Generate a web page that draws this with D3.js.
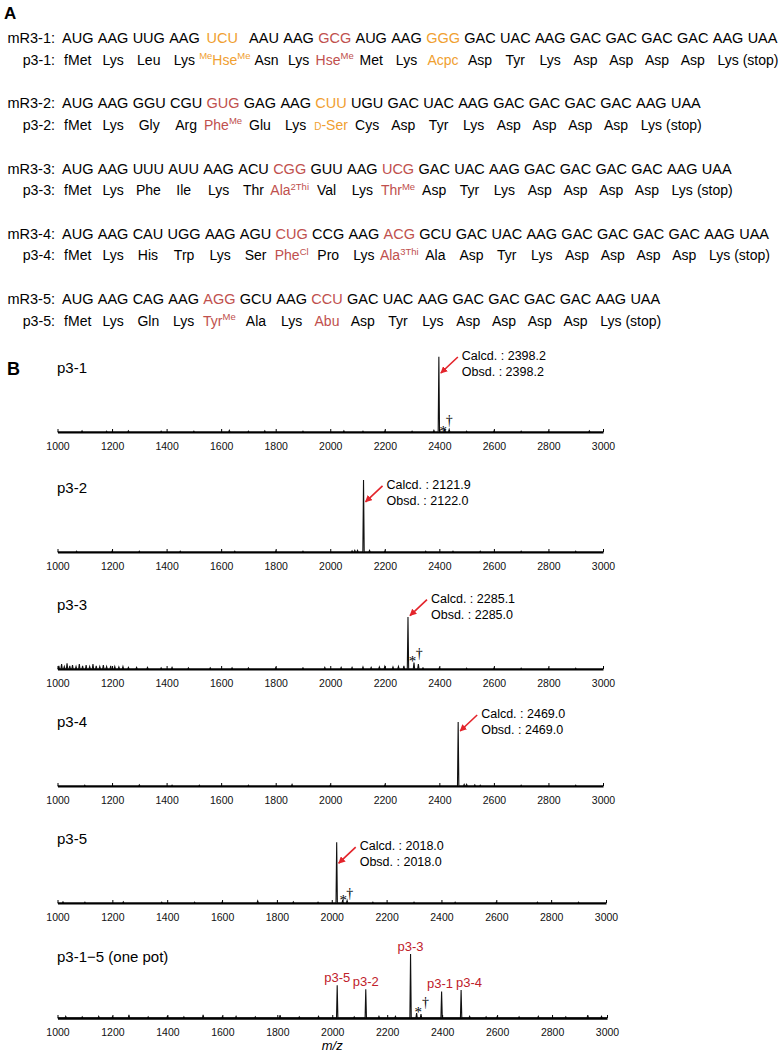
<!DOCTYPE html>
<html>
<head>
<meta charset="utf-8">
<script src="https://cdn.jsdelivr.net/npm/d3@7"></script>
<style>
  body { margin: 0; background: #fff; }
  text { font-family: "Liberation Sans", Arial, Helvetica, sans-serif; }
  text.mark { font-family: "Liberation Serif", "DejaVu Serif", serif; font-variant-emoji: text; }
</style>
</head>
<body>
<svg id="canvas"></svg>
<script>
// ---------- panel A : mRNA / peptide sequences ----------
const seqNames = ["3-1", "3-2", "3-3", "3-4", "3-5"];

const codons1 = ["AUG","AAG","UUG","AAG","UCU","AAU","AAG","GCG","AUG","AAG","GGG","GAC","UAC","AAG","GAC","GAC","GAC","GAC","AAG","UAA"];
const aminos1 = ["fMet","Lys","Leu","Lys","{Me}Hse{Me}","Asn","Lys","Hse{Me}","Met","Lys","Acpc","Asp","Tyr","Lys","Asp","Asp","Asp","Asp","Lys","(stop)"];
const codons2 = ["AUG","AAG","GGU","CGU","GUG","GAG","AAG","CUU","UGU","GAC","UAC","AAG","GAC","GAC","GAC","GAC","AAG","UAA"];
const aminos2 = ["fMet","Lys","Gly","Arg","Phe{Me}","Glu","Lys","[D]-Ser","Cys","Asp","Tyr","Lys","Asp","Asp","Asp","Asp","Lys","(stop)"];
const codons3 = ["AUG","AAG","UUU","AUU","AAG","ACU","CGG","GUU","AAG","UCG","GAC","UAC","AAG","GAC","GAC","GAC","GAC","AAG","UAA"];
const aminos3 = ["fMet","Lys","Phe","Ile","Lys","Thr","Ala{2Thi}","Val","Lys","Thr{Me}","Asp","Tyr","Lys","Asp","Asp","Asp","Asp","Lys","(stop)"];
const codons4 = ["AUG","AAG","CAU","UGG","AAG","AGU","CUG","CCG","AAG","ACG","GCU","GAC","UAC","AAG","GAC","GAC","GAC","GAC","AAG","UAA"];
const aminos4 = ["fMet","Lys","His","Trp","Lys","Ser","Phe{Cl}","Pro","Lys","Ala{3Thi}","Ala","Asp","Tyr","Lys","Asp","Asp","Asp","Asp","Lys","(stop)"];
const codons5 = ["AUG","AAG","CAG","AAG","AGG","GCU","AAG","CCU","GAC","UAC","AAG","GAC","GAC","GAC","GAC","AAG","UAA"];
const aminos5 = ["fMet","Lys","Gln","Lys","Tyr{Me}","Ala","Lys","Abu","Asp","Tyr","Lys","Asp","Asp","Asp","Asp","Lys","(stop)"];

// which positions are the special (reassigned) codons
const orangeIdx = [[4, 10], [7], [], [], []];
const redIdx    = [[7], [4], [6, 9], [6, 9], [4, 7]];

// ---------- panel B : MALDI spectra ----------
const mzTicks = [1000, 1200, 1400, 1600, 1800, 2000, 2200, 2400, 2600, 2800, 3000];
const panelNames = ["p3-1", "p3-2", "p3-3", "p3-4", "p3-5", "p3-1\u22125 (one pot)"];
const calcd = ["2398.2", "2121.9", "2285.1", "2469.0", "2018.0"];
const obsd  = ["2398.2", "2122.0", "2285.0", "2469.0", "2018.0"];

// peaks: [m/z, relative intensity]
const peaks1 = [[2398.2, 94], [2420, 4], [2436, 3]];
const peaks2 = [[2122.0, 90], [2090, 2], [2144, 2]];
const peaks3 = [[2285.0, 65], [2307, 8], [2323, 6]];
const peaks4 = [[2469.0, 80], [2491, 2], [2530, 1.5]];
const peaks5 = [[2018.0, 76], [2040, 4], [2056, 3]];
const peaks6 = [[2018, 41], [2122, 36], [2285, 80], [2307, 6], [2323, 5], [2398, 33], [2469, 35]];

// small baseline spikes (noise)
const noise1 = [[1090,1.5],[1180,1],[1260,1.5],[1380,1],[1500,1],[1630,2],[1700,1],[1760,1.5],[1900,1],[2050,1.5],[2120,1],[2200,1],[2300,1],[2380,2],[2500,1],[2600,1],[2700,1],[2800,1],[2950,1.5]];
const noise2 = [[1070,1],[1200,1],[1300,1],[1450,1],[1650,1],[1800,1],[1900,1],[2080,1.5],[2100,2],[2200,1],[2350,1],[2450,1],[2550,1],[2700,1],[2900,1]];
const noise3 = [[1005,4],[1015,6],[1025,3],[1035,7],[1045,4],[1055,5],[1068,3],[1080,6],[1092,4],[1105,5],[1118,3],[1130,6],[1142,4],[1155,3],[1168,5],[1180,3],[1195,4],[1210,3],[1225,2.5],[1240,3],[1260,2],[1290,2],[1330,2],[1380,1.5],[1420,2],[1480,1.5],[1560,1.5],[1640,1.5],[1700,1.5],[1800,1.5],[1900,1.5],[1980,2],[2040,2],[2080,2],[2120,2.5],[2150,2],[2180,2.5],[2200,3],[2230,2.5],[2250,3],[2270,4],[2340,1.5],[2400,1.5],[2500,1],[2600,1],[2700,1],[2800,1],[2900,1]];
const noise4 = [[1100,1],[1300,1.5],[1420,1],[1520,1],[1700,1],[1860,2],[2000,1],[2200,1],[2500,2],[2550,1],[2700,1],[2900,1]];
const noise5 = [[1020,1.5],[1100,1],[1240,1.5],[1380,1],[1500,1],[1600,1],[1730,2.5],[1860,1.5],[1950,1],[2150,1],[2300,1],[2450,1],[2600,1],[2750,1],[2900,1]];
const noise6 = [[1030,2],[1090,1.5],[1150,2],[1200,1.5],[1260,4],[1330,1.5],[1400,2],[1460,1.5],[1530,4],[1600,1.5],[1650,2],[1720,1.5],[1810,3.5],[1880,1.5],[1950,2],[2080,1.5],[2170,2],[2230,2],[2500,2],[2560,1.5],[2600,1.5],[2680,1.5],[2750,2],[2850,1.5],[2930,3.5],[2980,2]];

// one-pot peak labels: [peak m/z, label m/z, text]
const peakLabels6 = [[2018, 2018, "p3-5"], [2122, 2122, "p3-2"], [2285, 2285, "p3-3"], [2398, 2392, "p3-1"], [2469, 2498, "p3-4"]];

// adduct markers: [m/z, height, symbol]
const marks1 = [[2414, 6, "*"], [2436, 15, "\u2020"]];
const marks3 = [[2302, 15, "*"], [2326, 20, "\u2020"]];
const marks5 = [[2042, 9, "*"], [2066, 12.5, "\u2020"]];
const marks6 = [[2313, 12.5, "*"], [2339, 20, "\u2020"]];

// ---------- drawing ----------
const width = 782, height = 1053;
const svg = d3.select("#canvas").attr("width", width).attr("height", height);

const ORANGE = "#F0A030";
const RED = "#C0504D";
const DARKRED = "#C0202A";

// panel letters
svg.append("text").attr("x", 4).attr("y", 19).attr("font-size", 17).attr("font-weight", "bold").text("A");
svg.append("text").attr("x", 7).attr("y", 375).attr("font-size", 18).attr("font-weight", "bold").text("B");

const codonRows = [codons1, codons2, codons3, codons4, codons5];
const aminoRows = [aminos1, aminos2, aminos3, aminos4, aminos5];

const gA = svg.append("g").attr("font-size", 14.5);

// write an amino acid name, {..} = superscript, [..] = small caps
function writeAmino(textSel, s) {
  const parts = s.split(/(\{[^}]*\}|\[[^\]]*\])/).filter(p => p.length);
  let raised = false;
  parts.forEach(p => {
    if (p[0] === "{") {
      textSel.append("tspan").attr("font-size", 9.5).attr("dy", raised ? 0 : -5.5).text(p.slice(1, -1));
      raised = true;
    } else if (p[0] === "[") {
      textSel.append("tspan").attr("font-size", 10).attr("dy", raised ? 5.5 : 0).text(p.slice(1, -1));
      raised = false;
    } else {
      textSel.append("tspan").attr("dy", raised ? 5.5 : 0).text(p);
      raised = false;
    }
  });
}

codonRows.forEach((cods, r) => {
  const yM = 43 + r * 65.3;
  const yP = yM + 21.5;
  gA.append("text").attr("x", 55).attr("y", yM).attr("text-anchor", "end").text(`mR${seqNames[r]}:`);
  gA.append("text").attr("x", 55).attr("y", yP).attr("text-anchor", "end").attr("font-size", 14.2).text(`p${seqNames[r]}:`);

  let x = 62;          // next free codon x
  let aRight = 0;      // right edge of previous amino acid
  cods.forEach((c, i) => {
    const col = orangeIdx[r].includes(i) ? ORANGE : redIdx[r].includes(i) ? RED : "#000";
    const ct = gA.append("text").attr("y", yM).attr("fill", col).text(c);
    const cw = ct.node().getComputedTextLength();
    const at = gA.append("text").attr("y", yP).attr("fill", col)
      .attr("font-size", 14).attr("text-anchor", "middle");
    writeAmino(at, aminoRows[r][i]);
    const aw = at.node().getComputedTextLength();
    // center amino acid below codon, push right if it would collide
    const minCx = aRight + 4 + aw / 2;
    let cx = x + cw / 2;
    if (i > 0 && cx < minCx) cx = minCx;
    const cxCodon = Math.max(x + cw / 2, cx - 2.5);
    ct.attr("x", cxCodon - cw / 2);
    // last entry "(stop)" leans toward the codon's right edge, keeping its gap
    const ax = i === cods.length - 1 ? Math.max(minCx, Math.min(cx, cxCodon + cw / 2 - aw / 2 + 1)) : cx;
    at.attr("x", ax);
    aRight = ax + aw / 2;
    x = cxCodon + cw / 2 + 4.3;
  });
});

// ---------- spectra ----------
const panelAxisY = [432, 552, 669, 786, 903, 1018];
const panelRight = [603, 603, 603, 603, 606, 607];
const peakSets = [peaks1, peaks2, peaks3, peaks4, peaks5, peaks6];
const noiseSets = [noise1, noise2, noise3, noise4, noise5, noise6];
const markSets = [marks1, [], marks3, [], marks5, marks6];
const calcdLevel = [90, 79, 83, 85, 66];

const defs = svg.append("defs");
defs.append("marker")
  .attr("id", "arrow")
  .attr("viewBox", "0 0 10 10")
  .attr("refX", 9).attr("refY", 5)
  .attr("markerWidth", 7).attr("markerHeight", 7)
  .attr("markerUnits", "userSpaceOnUse")
  .attr("orient", "auto")
  .append("path").attr("d", "M0,0 L10,5 L0,10 z").attr("fill", "#E3242B");

panelAxisY.forEach((ay, p) => {
  const g = svg.append("g");
  const xScale = d3.scaleLinear().domain([1000, 3000]).range([57.5, panelRight[p]]);
  const yScale = d3.scaleLinear().domain([0, 100]).range([ay, ay - 80]);

  // title
  g.append("text")
    .attr("x", 57).attr("y", p === 5 ? ay - 56 : ay - 59)
    .attr("font-size", 15)
    .text(panelNames[p]);

  // spectrum trace: baseline + spikes
  const spikes = peakSets[p].concat(noiseSets[p]).sort((a, b) => a[0] - b[0]);
  const pts = [[1000, 0]];
  spikes.forEach(([mz, h]) => {
    pts.push([mz - 2.5, 0], [mz, h], [mz + 2.5, 0]);
  });
  pts.push([3000, 0]);
  const line = d3.line().x(d => xScale(d[0])).y(d => yScale(d[1]));
  g.append("path")
    .attr("d", line(pts))
    .attr("fill", "none")
    .attr("stroke", "#111")
    .attr("stroke-width", 1.1);

  // axis
  const axis = d3.axisBottom(xScale)
    .tickValues(mzTicks)
    .tickSizeInner(-3)
    .tickSizeOuter(0)
    .tickPadding(11)
    .tickFormat(d3.format("d"));
  const ax = g.append("g").attr("transform", `translate(0,${ay})`).call(axis);
  ax.select(".domain").attr("stroke-width", p === 5 ? 2.6 : 2.1);
  ax.selectAll(".tick line").attr("stroke-width", 1);
  ax.selectAll(".tick text")
    .attr("font-family", "Liberation Sans, Arial, sans-serif")
    .attr("font-size", 10.5)
    .attr("fill", "#111");

  // adduct markers
  markSets[p].forEach(([mz, h, s]) => {
    g.append("text")
      .attr("class", "mark")
      .attr("x", xScale(mz))
      .attr("y", yScale(h) + (s === "*" ? 9 : 4.5))
      .attr("text-anchor", "middle")
      .attr("font-size", s === "*" ? 15 : 14)
      .attr("fill", "#000")
      .text(s === "*" ? s : s + "\uFE0E");
  });

  if (p < 5) {
    // calcd / obsd annotation with arrow
    const px = xScale(peakSets[p][0][0]);
    const base = yScale(calcdLevel[p]);
    const tx = px + 23;
    g.append("text").attr("x", tx).attr("y", base).attr("font-size", 12.5).text(`Calcd. : ${calcd[p]}`);
    g.append("text").attr("x", tx).attr("y", base + 16).attr("font-size", 12.5).text(`Obsd. : ${obsd[p]}`);
    g.append("line")
      .attr("x1", px + 19).attr("y1", base - 3)
      .attr("x2", px + 2).attr("y2", base + 13)
      .attr("stroke", "#E3242B")
      .attr("stroke-width", 1.6)
      .attr("marker-end", "url(#arrow)");
  } else {
    // one-pot peak labels
    peakLabels6.forEach(([mz, lx, lab]) => {
      const h = peakSets[p].find(d => d[0] === mz)[1];
      g.append("text")
        .attr("x", xScale(lx))
        .attr("y", yScale(h) - 3.5)
        .attr("text-anchor", "middle")
        .attr("font-size", 13)
        .attr("fill", DARKRED)
        .text(lab);
    });
    g.append("text")
      .attr("x", xScale(2000))
      .attr("y", ay + 32)
      .attr("text-anchor", "middle")
      .attr("font-size", 13)
      .attr("font-style", "italic")
      .text("m/z");
  }
});
</script>
</body>
</html>
